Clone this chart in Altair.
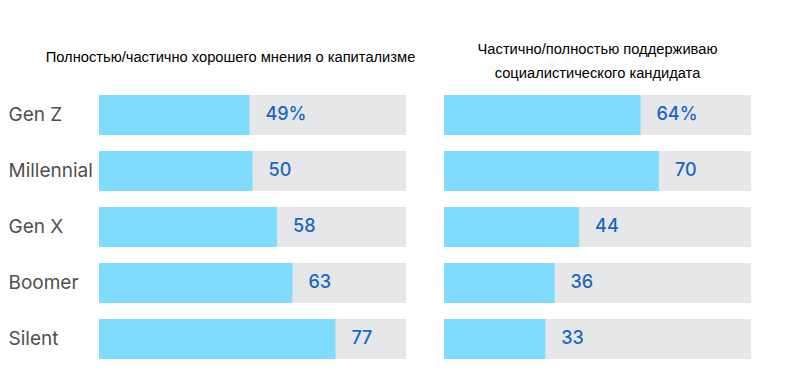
import altair as alt
import pandas as pd

categories = ["Gen Z", "Millennial", "Gen X", "Boomer", "Silent"]
capitalism = [49, 50, 58, 63, 77]
socialist = [64, 70, 44, 36, 33]
full = [100, 100, 100, 100, 100]

left_title = [" ", "Полностью/частично хорошего мнения о капитализме"]
right_title = ["Частично/полностью поддерживаю", "социалистического кандидата"]


def panel(values, title, show_axis):
    df = pd.DataFrame({
        "gen": categories,
        "v": values,
        "full": full,
        "label": [f"{v}%" if i == 0 else str(v) for i, v in enumerate(values)],
    })
    yscale = alt.Scale(domain=categories, paddingInner=16 / 56, paddingOuter=8 / 56)
    if show_axis:
        yaxis = alt.Axis(title=None, domain=False, ticks=False, labelAlign="left",
                         labelPadding=91, labelFontSize=19, labelColor="#505050",
                         labelFont="Inter", labelBaseline="middle")
    else:
        yaxis = None
    y = alt.Y("gen:N", scale=yscale, axis=yaxis, sort=categories)
    xs = alt.Scale(domain=[0, 100])
    base = alt.Chart(df)
    bg = base.mark_bar(color="#e6e7e9").encode(x=alt.X("full:Q", scale=xs, axis=None), y=y)
    fg = base.mark_bar(color="#80dcff").encode(x=alt.X("v:Q", scale=xs, axis=None), y=y)
    tx = base.mark_text(align="left", baseline="middle", dx=16, fontSize=18, fontWeight=500,
                        color="#1a66c2", font="Inter").encode(
        x=alt.X("v:Q", scale=xs, axis=None), y=y, text="label:N")
    return alt.layer(bg, fg, tx).properties(width=307, height=280, title=title)


lt = alt.TitleParams(text=left_title, fontSize=14.7, font="Liberation Sans", fontWeight="normal",
                     color="#000000", lineHeight=8, offset=22, dx=-22, anchor="middle")
rt = alt.TitleParams(text=right_title, fontSize=14.7, font="Liberation Sans", fontWeight="normal",
                     color="#000000", lineHeight=24, offset=6, anchor="middle")

chart = alt.hconcat(
    panel(capitalism, lt, True),
    panel(socialist, rt, False),
    spacing=28,
).properties(
    padding={"left": 0, "top": 34, "right": 0, "bottom": 0}
).configure_view(stroke=None)

chart.save("out.html", embed_options={"renderer": "svg", "actions": False})
